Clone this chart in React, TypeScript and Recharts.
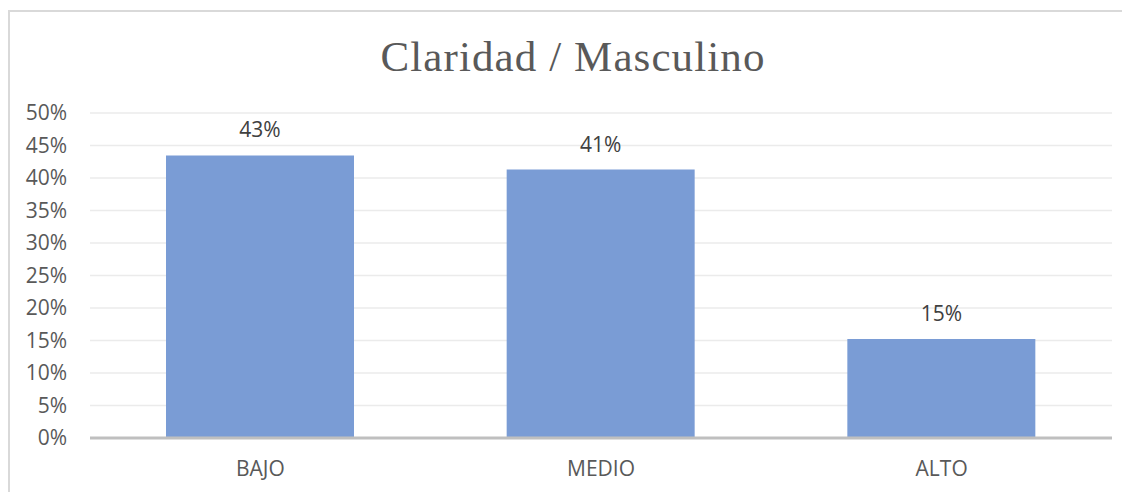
import React from 'react';
import { BarChart, Bar, XAxis, YAxis, CartesianGrid, LabelList } from 'recharts';

const categories = ['BAJO', 'MEDIO', 'ALTO'];
const shares = [0.4348, 0.413, 0.1522];
const yTicks = [0, 0.05, 0.1, 0.15, 0.2, 0.25, 0.3, 0.35, 0.4, 0.45, 0.5];

const data = categories.map((name, i) => ({ name, value: shares[i] }));

const pct = (v: number) => `${Math.round(v * 100)}%`;

const font = '"Open Sans", sans-serif';

export default function App() {
  return (
    <div
      style={{
        position: 'relative',
        width: 1112,
        height: 488,
        marginTop: 2,
        border: '2px solid #d9d9d9',
        background: '#fff',
      }}
    >
      <div
        style={{
          position: 'absolute',
          top: 20,
          left: 0,
          width: 1126,
          textAlign: 'center',
          fontFamily: '"Liberation Serif", "Times New Roman", serif',
          fontSize: 43,
          lineHeight: 'normal',
          color: '#595959',
          letterSpacing: 1.1,
        }}
      >
        Claridad / Masculino
      </div>
      <BarChart
        width={1112}
        height={488}
        data={data}
        margin={{ top: 101, right: 10, left: 20, bottom: 32 }}
      >
        <CartesianGrid vertical={false} stroke="#ebebeb" strokeWidth={1.5} />
        <XAxis
          dataKey="name"
          height={30}
          axisLine={{ stroke: '#bfbfbf', strokeWidth: 3 }}
          tickLine={false}
          tickMargin={17}
          tick={{ fill: '#595959', fontSize: 21, fontFamily: font }}
        />
        <YAxis
          width={60}
          domain={[0, 0.5]}
          ticks={yTicks}
          interval={0}
          tickFormatter={pct}
          axisLine={false}
          tickLine={false}
          tickMargin={17}
          tick={{ fill: '#595959', fontSize: 21, fontFamily: font }}
        />
        <Bar dataKey="value" fill="#7a9cd5" barSize={188} isAnimationActive={false}>
          <LabelList
            dataKey="value"
            position="top"
            offset={18}
            formatter={(v: any) => pct(Number(v))}
            style={{ fill: '#404040', fontSize: 21, fontFamily: font }}
          />
        </Bar>
      </BarChart>
    </div>
  );
}
